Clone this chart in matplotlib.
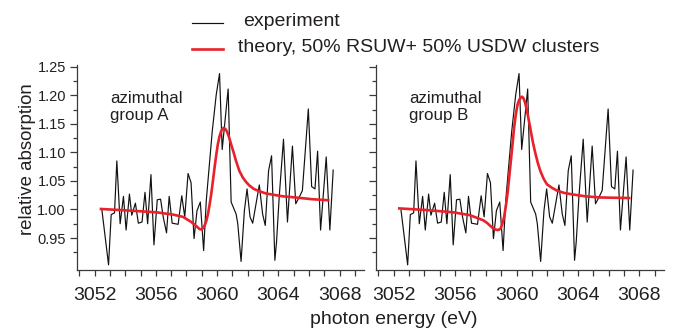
import matplotlib
matplotlib.use("Agg")
import matplotlib.pyplot as plt
from matplotlib.lines import Line2D
from matplotlib.ticker import MultipleLocator, FormatStrFormatter

plt.rcParams['font.family'] = ['Liberation Sans', 'DejaVu Sans']

# Measured spectrum (same scan shown in both panels)
exp_energy = [3052.478, 3052.911, 3053.084, 3053.301, 3053.452, 3053.669, 3053.885,
              3054.058, 3054.275, 3054.427, 3054.665, 3054.859, 3055.098, 3055.292,
              3055.465, 3055.682, 3055.877, 3056.093, 3056.310, 3056.483, 3056.699,
              3056.872, 3057.067, 3057.457, 3057.695, 3057.890, 3058.106, 3058.301,
              3058.496, 3058.690, 3058.907, 3059.123, 3059.297, 3059.686, 3059.946,
              3060.162, 3060.335, 3060.725, 3060.920, 3061.245, 3061.353, 3061.569,
              3061.786, 3061.959, 3062.154, 3062.327, 3062.760, 3062.976, 3063.149,
              3063.366, 3063.561, 3063.777, 3063.885, 3064.058, 3064.340, 3064.600,
              3064.924, 3065.141, 3065.357, 3065.574, 3065.963, 3066.180, 3066.396,
              3066.569, 3066.764, 3067.132, 3067.370, 3067.587]
exp_absorption = [0.999, 0.903, 0.991, 0.994, 1.085, 0.975, 1.023,
                  0.964, 1.027, 0.990, 1.011, 0.976, 0.978, 1.030,
                  0.975, 1.061, 0.938, 1.017, 1.018, 0.987, 0.959,
                  1.023, 0.976, 0.974, 1.024, 0.987, 1.063, 1.047,
                  0.949, 0.998, 1.013, 0.928, 1.016, 1.137, 1.201,
                  1.238, 1.105, 1.211, 1.013, 0.992, 0.975, 0.909,
                  0.998, 1.036, 0.987, 0.976, 1.043, 0.992, 0.972,
                  1.068, 1.094, 0.911, 0.943, 1.021, 1.123, 0.978,
                  1.111, 1.010, 1.021, 1.033, 1.176, 1.040, 1.036,
                  1.102, 0.964, 1.092, 0.964, 1.069]

# Theory, group A
theory_a_energy = [3052.33, 3054.32, 3056.05, 3057.13, 3057.78, 3058.32, 3058.55,
                   3058.76, 3058.87, 3058.97, 3059.08, 3059.19, 3059.30, 3059.41,
                   3059.51, 3059.62, 3059.73, 3059.84, 3059.95, 3060.05, 3060.16,
                   3060.27, 3060.36, 3060.44, 3060.54, 3060.64, 3060.78, 3060.92,
                   3061.08, 3061.24, 3061.45, 3061.68, 3061.90, 3062.11, 3062.40,
                   3062.76, 3063.20, 3063.63, 3064.30, 3065.14, 3066.20, 3067.35]
theory_a = [1.001, 0.998, 0.995, 0.991, 0.987, 0.978, 0.973,
            0.968, 0.9655, 0.965, 0.967, 0.972, 0.980, 0.9925,
            1.008, 1.027, 1.050, 1.074, 1.096, 1.114, 1.128,
            1.137, 1.1415, 1.143, 1.141, 1.137, 1.127, 1.114,
            1.100, 1.085, 1.068, 1.056, 1.048, 1.042, 1.036,
            1.032, 1.028, 1.026, 1.023, 1.021, 1.018, 1.016]

# Theory, group B
theory_b_energy = [3052.28, 3054.14, 3055.88, 3056.97, 3057.84, 3058.10, 3058.38,
                   3058.57, 3058.75, 3058.86, 3058.97, 3059.08, 3059.19, 3059.30,
                   3059.41, 3059.52, 3059.63, 3059.74, 3059.84, 3059.95, 3060.06,
                   3060.17, 3060.28, 3060.36, 3060.45, 3060.56, 3060.67, 3060.80,
                   3060.93, 3061.07, 3061.22, 3061.38, 3061.54, 3061.76, 3061.98,
                   3062.30, 3062.63, 3063.10, 3063.72, 3064.50, 3065.46, 3066.40,
                   3067.42]
theory_b = [1.002, 0.999, 0.995, 0.990, 0.981, 0.976, 0.969,
            0.9655, 0.964, 0.9645, 0.967, 0.975, 0.987, 1.005,
            1.027, 1.056, 1.085, 1.115, 1.143, 1.166, 1.183,
            1.192, 1.196, 1.1975, 1.195, 1.187, 1.174, 1.156,
            1.137, 1.117, 1.099, 1.082, 1.068, 1.054, 1.044,
            1.038, 1.033, 1.029, 1.026, 1.023, 1.021, 1.0205,
            1.020]

panel_labels = ["azimuthal\ngroup A", "azimuthal\ngroup B"]
x_ticks = [3052, 3056, 3060, 3064, 3068]
y_ticks = [0.95, 1.00, 1.05, 1.10, 1.15, 1.20, 1.25]
y_minor = [0.925, 0.975, 1.025, 1.075, 1.125, 1.175, 1.225]

RED = '#e8212b'
INK = '#231f20'
AX = '#3a3a3a'

W, H = 681, 331
fig = plt.figure(figsize=(W / 100, H / 100), dpi=100)

ax_l = fig.add_axes([77 / W, 61 / H, 287 / W, 205 / H])
ax_r = fig.add_axes([376 / W, 61 / H, 288 / W, 205 / H])

for ax, th_e, th_v, lab in [(ax_l, theory_a_energy, theory_a, panel_labels[0]),
                            (ax_r, theory_b_energy, theory_b, panel_labels[1])]:
    ax.plot(exp_energy, exp_absorption, color='#111111', lw=0.85, zorder=2)
    ax.plot(th_e, th_v, color=RED, lw=1.9, zorder=3,
            solid_capstyle='butt', solid_joinstyle='round')
    ax.set_xlim(3050.85, 3069.6)
    ax.set_ylim(0.894, 1.253)
    ax.spines['top'].set_visible(False)
    ax.spines['right'].set_visible(False)
    for s in ('left', 'bottom'):
        ax.spines[s].set_color(AX)
        ax.spines[s].set_linewidth(0.9)
    ax.set_xticks(x_ticks)
    ax.xaxis.set_minor_locator(MultipleLocator(1))
    ax.set_yticks(y_ticks)
    ax.set_yticks(y_minor, minor=True)
    ax.tick_params(axis='x', which='both', direction='out', length=4, width=0.9,
                   color=AX, labelsize=14, pad=8, labelcolor=INK)
    ax.tick_params(axis='y', which='major', direction='out', length=5, width=0.9,
                   color=AX, labelsize=10.5, pad=3, labelcolor=INK)
    ax.tick_params(axis='y', which='minor', direction='out', length=3, width=0.9,
                   color=AX)
    ax.text(3053.0, 1.207, lab, fontsize=12.2, color=INK, va='top', ha='left',
            linespacing=1.15)

ax_l.yaxis.set_major_formatter(FormatStrFormatter('%.2f'))
ax_r.tick_params(axis='y', which='both', labelleft=False)

# Legend keys and labels
fig.add_artist(Line2D([192 / W, 223 / W], [1 - 23 / H, 1 - 23 / H],
                      transform=fig.transFigure, color='#111111', lw=0.85))
fig.add_artist(Line2D([192 / W, 223 / W], [1 - 49 / H, 1 - 49 / H],
                      transform=fig.transFigure, color=RED, lw=1.9))
fig.text(243 / W, 1 - 21 / H, "experiment", fontsize=14, color=INK, va='center')
fig.text(238 / W, 1 - 47 / H, "theory, 50% RSUW+ 50% USDW clusters", fontsize=14,
         color=INK, va='center')

fig.text(27 / W, 1 - 159 / H, "relative absorption", rotation=90, fontsize=13.4,
         color=INK, ha='center', va='center')
fig.text(394 / W, 1 - 319 / H, "photon energy (eV)", fontsize=14, color=INK,
         ha='center', va='center')

fig.savefig("out.png", dpi=100)
